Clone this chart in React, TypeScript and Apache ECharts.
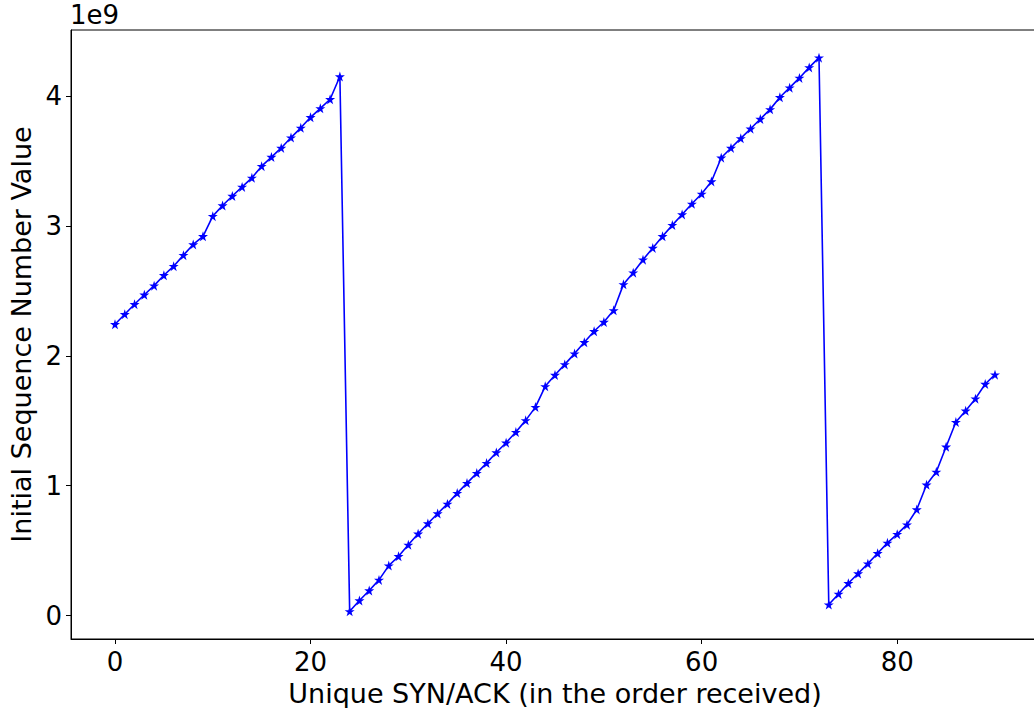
import React, { useEffect, useRef } from "react";
import * as echarts from "echarts";

// Index of each unique SYN/ACK (in the order received)
const synAckIndex: number[] = Array.from({ length: 91 }, (_, i) => i);

// Initial sequence number values, in units of 1e9
const isnBillions: number[] = [
  2.243, 2.32, 2.397, 2.47, 2.54, 2.62, 2.69, 2.775, 2.857, 2.92,
  3.075, 3.157, 3.23, 3.3, 3.37, 3.46, 3.53, 3.6, 3.68, 3.755,
  3.836, 3.905, 3.975, 4.15, 0.033, 0.116, 0.193, 0.275, 0.385, 0.457,
  0.545, 0.63, 0.709, 0.786, 0.86, 0.943, 1.02, 1.097, 1.174, 1.256,
  1.331, 1.413, 1.503, 1.605, 1.765, 1.852, 1.934, 2.017, 2.104, 2.189,
  2.26, 2.35, 2.55, 2.64, 2.74, 2.83, 2.92, 3.006, 3.088, 3.17,
  3.247, 3.342, 3.525, 3.6, 3.674, 3.748, 3.823, 3.897, 3.99, 4.064,
  4.139, 4.22, 4.295, 0.085, 0.167, 0.249, 0.324, 0.4, 0.48, 0.56,
  0.627, 0.7, 0.817, 1.007, 1.107, 1.3, 1.49, 1.577, 1.67, 1.783,
  1.855,
];

const xTickValues: number[] = [0, 20, 40, 60, 80];
const yTickValues: number[] = [0, 1, 2, 3, 4];

const FONT = "DejaVu Sans";
const STAR =
  "path://M0,-1L0.2245,-0.309L0.951,-0.309L0.363,0.118L0.588,0.809L0,0.382L-0.588,0.809L-0.363,0.118L-0.951,-0.309L-0.2245,-0.309Z";

export default function App() {
  const ref = useRef<HTMLDivElement>(null);

  useEffect(() => {
    if (!ref.current) return;
    const chart = echarts.init(ref.current, null, { renderer: "svg" });
    const data = synAckIndex.map((x, i) => [x, isnBillions[i]]);
    chart.setOption({
      animation: false,
      backgroundColor: "#ffffff",
      grid: {
        left: 71,
        top: 30,
        width: 968,
        height: 609,
        show: true,
        borderColor: "#000000",
        borderWidth: 1,
        backgroundColor: "transparent",
        containLabel: false,
        outerBoundsMode: "none",
      },
      graphic: [
        {
          type: "text",
          left: 70,
          top: 2,
          style: {
            text: "1e9",
            fontSize: 26,
            fontFamily: FONT,
            fill: "#000000",
          },
        },
      ],
      xAxis: {
        type: "value",
        min: -4.5,
        max: 94.5,
        name: "Unique SYN/ACK (in the order received)",
        nameLocation: "middle",
        nameGap: 41,
        nameTextStyle: { fontSize: 27, fontFamily: FONT, color: "#000000" },
        axisLine: { show: true, onZero: false, lineStyle: { color: "#000000", width: 1 } },
        axisTick: {
          show: true,
          customValues: xTickValues,
          length: 5,
          lineStyle: { color: "#000000" },
        },
        axisLabel: {
          customValues: xTickValues,
          fontSize: 26,
          fontFamily: FONT,
          color: "#000000",
          margin: 10,
        },
        splitLine: { show: false },
      },
      yAxis: {
        type: "value",
        min: -0.18,
        max: 4.508,
        name: "Initial Sequence Number Value",
        nameLocation: "middle",
        nameGap: 36,
        nameTextStyle: { fontSize: 27, fontFamily: FONT, color: "#000000" },
        axisLine: { show: true, onZero: false, lineStyle: { color: "#000000", width: 1 } },
        axisTick: {
          show: true,
          customValues: yTickValues,
          length: 5,
          lineStyle: { color: "#000000" },
        },
        axisLabel: {
          customValues: yTickValues,
          fontSize: 26,
          fontFamily: FONT,
          color: "#000000",
          margin: 9,
          formatter: (v: number) => String(v),
        },
        splitLine: { show: false },
      },
      series: [
        {
          type: "line",
          data,
          symbol: STAR,
          symbolSize: 10,
          showAllSymbol: true,
          lineStyle: { color: "#0000ff", width: 1.6 },
          itemStyle: { color: "#0000ff", borderWidth: 0 },
          clip: true,
        },
      ],
    });
    return () => chart.dispose();
  }, []);

  return (
    <div
      ref={ref}
      style={{ position: "absolute", left: 0, top: 0, width: 1034, height: 708 }}
    />
  );
}
